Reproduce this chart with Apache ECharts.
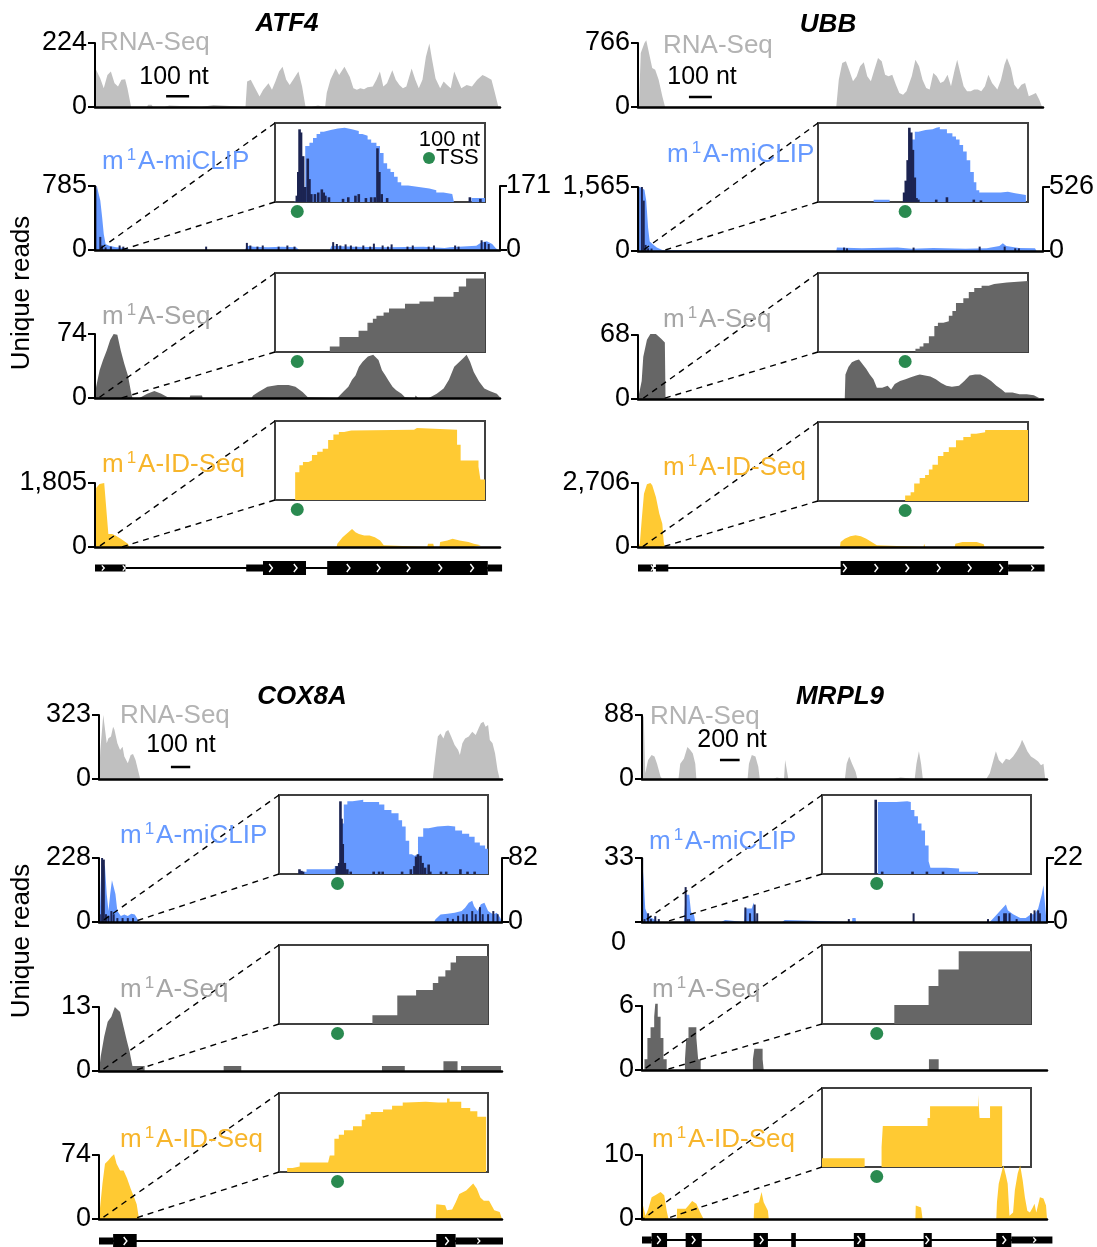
<!DOCTYPE html>
<html><head><meta charset="utf-8">
<script src="https://cdn.jsdelivr.net/npm/echarts@6/dist/echarts.min.js"></script>
<style>html,body{margin:0;padding:0;background:#fff}#c{width:1097px;height:1247px}</style>
</head><body><div id="c"></div>
<script>
// ---------------- DATA ----------------
const geneNames = ['ATF4', 'UBB', 'COX8A', 'MRPL9'];
const geneLengths = [1760, 1765, 2085, 4120];
const trackNames = ['RNA-Seq', 'm1A-miCLIP', 'm1A-Seq', 'm1A-ID-Seq'];
const yMaxRna = [224, 766, 323, 88];
const yMaxMiclip = [785, 1565, 228, 33];
const yMaxSites = [171, 526, 82, 22];
const yMaxM1a = [74, 68, 13, 6];
const yMaxId = [1805, 2706, 74, 10];
const scaleBarStart = [309, 222, 372, 793];
const scaleBarLen = [100, 100, 100, 200];
const scaleBarY = [38, 120, 61, 26];
const scaleBarLabels = ['100 nt', '100 nt', '100 nt', '200 nt'];
const zoomRegionStart = [15, 18, 10, 10];
const zoomRegionEnd = [115, 105, 175, 235];
const tssInset = [10.6, 41.5, 28, 26.2];

// ATF4
const atf4Rna = [[0,0],[2,135],[8,141],[23,100],[38,66],[54,112],[69,124],[85,83],[100,72],[115,95],[131,97],[141,66],[157,0],[225,0],[231,8],[246,8],[252,0],[302,0],[308,5],[323,5],[329,0],[463,0],[469,7],[515,7],[521,0],[654,0],[661,89],[677,95],[692,72],[715,37],[731,60],[754,83],[769,60],[784,89],[800,124],[815,141],[831,95],[846,77],[861,95],[884,124],[900,72],[915,0],[940,0],[946,5],[969,5],[975,0],[1000,0],[1007,49],[1023,95],[1046,135],[1061,112],[1084,141],[1107,106],[1123,66],[1138,60],[1153,66],[1169,62],[1184,69],[1207,72],[1223,95],[1238,124],[1253,72],[1269,83],[1292,129],[1307,95],[1323,77],[1338,66],[1353,72],[1376,135],[1392,95],[1407,66],[1423,95],[1438,176],[1453,222],[1464,170],[1480,100],[1500,66],[1515,89],[1530,77],[1546,66],[1561,124],[1576,95],[1592,66],[1615,77],[1638,72],[1661,95],[1684,112],[1700,106],[1723,95],[1738,49],[1753,0]];
const atf4MiclipCov = [[0,0],[3,700],[8,785],[15,785],[23,608],[31,403],[38,197],[46,74],[61,53],[92,33],[138,25],[150,0],[652,0],[660,53],[690,41],[752,33],[813,41],[874,33],[887,0],[1020,0],[1028,53],[1120,41],[1273,33],[1427,41],[1519,25],[1542,33],[1580,41],[1657,53],[1680,95],[1703,107],[1726,74],[1741,25],[1752,0]];
const atf4MiclipSites = [[2,171],[23,35],[31,12],[46,7],[69,9],[107,12],[123,9],[483,9],[660,19],[675,12],[706,9],[729,12],[798,9],[836,12],[867,9],[1035,21],[1051,16],[1066,12],[1089,15],[1112,12],[1135,9],[1166,12],[1196,9],[1212,17],[1250,12],[1273,9],[1289,15],[1358,9],[1381,12],[1450,9],[1473,12],[1565,12],[1580,9],[1680,26],[1695,21],[1711,16]];
const atf4M1a = [[0,0],[5,13],[20,32],[35,44],[51,55],[66,67],[81,74],[97,73],[112,55],[127,40],[143,26],[158,5],[163,0],[193,0],[196,1],[227,5],[258,8],[288,5],[316,1],[319,0],[411,0],[414,3],[465,3],[468,0],[680,0],[687,3],[710,7],[749,13],[795,15],[841,15],[871,13],[902,7],[925,1],[933,0],[1053,0],[1055,1],[1078,7],[1101,13],[1117,21],[1132,26],[1147,36],[1163,42],[1186,48],[1209,50],[1232,44],[1247,32],[1262,26],[1278,19],[1293,13],[1309,9],[1332,5],[1347,1],[1350,0],[1390,0],[1393,3],[1400,3],[1404,0],[1451,0],[1454,2],[1485,5],[1515,11],[1538,21],[1561,36],[1584,42],[1600,46],[1615,50],[1630,42],[1646,30],[1669,19],[1692,11],[1715,8],[1746,5],[1760,1]];
const atf4Id = [[0,0],[5,1667],[20,1778],[40,1805],[51,926],[58,370],[74,370],[89,324],[112,231],[143,93],[150,0],[1050,0],[1053,93],[1076,278],[1101,417],[1117,509],[1132,417],[1147,370],[1170,324],[1193,324],[1216,278],[1239,185],[1255,46],[1258,0],[1444,0],[1447,93],[1470,93],[1473,0],[1497,0],[1500,139],[1531,185],[1554,231],[1584,185],[1623,139],[1646,93],[1677,46],[1681,0]];
const atf4InsetMiclipCov = [[0,0],[8.9,1],[10.6,6],[13.1,19],[14.4,71],[16.4,75],[18.1,81],[19.8,86],[21.5,89],[23.2,91],[26.5,93],[29.9,94],[33.2,92],[36.6,90],[39.9,86],[41.6,84],[44.1,79],[45.8,75],[48.3,71],[50,62],[51.7,49],[53.4,42],[55,38],[56.7,32],[58.4,25],[60.1,21],[63.4,19],[68.5,17],[73.5,15],[76.8,12],[80.2,10],[84.4,8],[85.2,0],[93.6,5],[100,5]];
const atf4InsetMiclipSites = [[10.4,8],[11.1,38],[11.7,92],[12.4,88],[13.4,58],[14.4,19],[15.6,55],[16.4,29],[17.3,10],[19,10],[20.6,12],[22.3,16],[23.2,12],[24,8],[25.7,6],[32.4,4],[34.9,6],[38.3,8],[39.9,10],[43.3,5],[45.8,6],[47.5,6],[48.8,68],[49.7,38],[50.8,10],[53.4,5],[92.8,6],[97.8,4]];
const atf4InsetM1a = [[0,0],[26.1,7],[30.7,19],[39.8,27],[44,37],[46.6,42],[48.3,46],[51.7,50],[54.3,55],[61.9,61],[68.8,64],[75.6,70],[85,76],[87.5,83],[91,93],[100,93]];
const atf4InsetId = [[0,0],[9.6,35],[11.6,44],[13.3,48],[15.9,50],[17.6,57],[20.1,61],[22.7,65],[25.3,76],[27.8,83],[30.4,86],[32.9,88],[36.3,89],[66.2,91],[67.6,89],[86.7,70],[88.4,50],[96.9,42],[97.8,26],[100,26]];
const atf4Exons = [[0,132,0],[657,730,0],[730,917,1],[1009,1707,1],[1707,1769,0]];
const atf4Chevrons = [[35,0],[126,0],[764,1],[871,1],[1101,1],[1232,1],[1362,1],[1500,1],[1638,1]];

// UBB
const ubbRna = [[0,0],[5,88],[12,646],[28,766],[36,800],[51,606],[62,467],[75,447],[90,327],[106,128],[118,0],[864,0],[875,327],[890,527],[906,547],[922,427],[937,307],[953,367],[968,487],[984,535],[999,367],[1015,307],[1030,447],[1046,587],[1062,547],[1077,387],[1092,367],[1108,387],[1124,267],[1139,168],[1155,148],[1170,188],[1193,367],[1209,567],[1225,487],[1240,327],[1256,227],[1271,208],[1287,407],[1302,367],[1318,287],[1333,307],[1349,387],[1364,247],[1380,447],[1391,567],[1403,427],[1419,247],[1434,188],[1450,188],[1465,208],[1481,208],[1496,188],[1512,247],[1527,387],[1543,287],[1566,208],[1582,327],[1597,507],[1608,587],[1625,467],[1640,267],[1656,208],[1671,267],[1687,287],[1703,128],[1718,148],[1734,168],[1749,88],[1761,0]];
const ubbMiclipCov = [[0,0],[3,1400],[5,1565],[16,1540],[28,1500],[36,1231],[44,566],[51,233],[67,150],[82,83],[106,25],[113,0],[864,0],[867,83],[976,66],[1131,83],[1193,58],[1287,75],[1427,58],[1520,66],[1575,125],[1590,191],[1605,125],[1660,75],[1730,66],[1737,0]];
const ubbMiclipSites = [[1,526],[17,526],[25,414],[33,50],[44,22],[59,20],[898,28],[911,22],[1201,28],[1489,36],[1598,36],[1644,22],[1660,22]];
const ubbM1a = [[0,0],[8,1],[16,19],[23,45],[39,63],[54,69],[78,69],[101,64],[117,60],[120,0],[901,0],[904,26],[917,34],[932,39],[948,41],[963,42],[979,37],[995,32],[1010,26],[1026,21],[1041,12],[1064,12],[1088,14],[1103,10],[1119,16],[1142,19],[1166,21],[1189,23],[1212,25],[1228,26],[1251,25],[1274,24],[1298,21],[1321,17],[1344,14],[1368,13],[1399,14],[1422,19],[1445,25],[1469,26],[1492,26],[1515,23],[1539,19],[1562,14],[1585,10],[1600,7],[1632,7],[1663,5],[1694,5],[1725,4],[1748,1],[1752,0]];
const ubbId = [[0,0],[8,141],[16,1128],[26,2256],[39,2650],[54,2706],[62,2609],[78,2115],[93,1410],[106,987],[112,211],[117,0],[880,0],[883,211],[901,352],[925,451],[948,493],[971,451],[995,352],[1018,211],[1041,70],[1044,0],[1244,0],[1247,141],[1252,0],[1380,0],[1383,141],[1414,211],[1476,211],[1507,113],[1510,0]];
const ubbInsetMiclipCov = [[0,0],[26.5,3],[34.1,0],[42.7,1],[44.4,79],[46.1,89],[47.8,91],[51.2,92],[54.6,94],[56.3,95],[58,92],[61.4,87],[64,83],[65.7,79],[67.4,72],[69.1,64],[70.8,53],[72.5,38],[74.2,25],[75.4,15],[76.8,12],[87,13],[90.4,11],[93.9,9],[99,0],[100,0]];
const ubbInsetMiclipSites = [[41,12],[41.8,27],[42.7,53],[43.5,94],[44.4,88],[45.2,66],[46.1,31],[46.9,5],[47.8,3],[56.3,3],[61.4,6],[74.2,3],[77.6,2]];
const ubbInsetM1a = [[0,0],[46.4,4],[48.4,7],[50.2,11],[52.8,20],[55.4,33],[57.1,37],[59.7,39],[62.3,46],[64,52],[65.7,62],[69.2,68],[71.8,76],[74.4,81],[77.9,84],[81.3,86],[83.9,88],[90,90],[100,91]];
const ubbInsetId = [[0,0],[41.5,7],[44.1,11],[45.8,22],[48.4,29],[51,33],[52.8,40],[54.5,46],[57.1,57],[59.7,62],[62.3,68],[65.7,77],[69.2,81],[72.7,85],[75.3,87],[79.6,90],[89.1,92],[90,90],[100,90]];
const ubbExons = [[0,65,0],[78,132,0],[883,1613,1],[1613,1772,0]];
const ubbChevrons = [[62,0],[901,1],[1038,1],[1173,1],[1310,1],[1445,1],[1582,1],[1719,0]];

// COX8A
const cox8aRna = [[0,0],[7,146],[22,323],[31,314],[40,180],[49,206],[62,214],[73,264],[80,248],[95,180],[109,146],[122,163],[131,113],[149,79],[164,121],[176,126],[189,96],[204,37],[213,0],[1727,0],[1740,113],[1753,214],[1767,230],[1782,205],[1794,239],[1807,247],[1822,214],[1840,172],[1858,146],[1867,121],[1880,180],[1894,205],[1913,214],[1931,239],[1949,222],[1964,256],[1976,281],[1989,289],[2000,264],[2013,272],[2022,197],[2036,180],[2049,130],[2062,45],[2073,0]];
const cox8aMiclipCov = [[0,0],[4,27],[13,222],[22,228],[31,197],[40,100],[49,39],[58,100],[67,149],[76,155],[85,100],[95,39],[113,21],[131,27],[149,21],[167,29],[185,27],[200,10],[204,0],[1734,0],[1740,9],[1767,27],[1804,29],[1840,33],[1876,39],[1894,51],[1913,69],[1931,76],[1940,57],[1958,39],[1976,63],[1994,69],[2013,39],[2040,27],[2058,33],[2076,15],[2084,0]];
const cox8aMiclipSites = [[4,10],[16,82],[25,80],[36,10],[49,8],[64,14],[76,10],[95,5],[122,5],[149,5],[176,5],[1804,5],[1831,4],[1858,8],[1885,10],[1903,10],[1931,14],[1949,10],[1971,19],[1985,10],[2013,10],[2040,14],[2062,10]];
const cox8aM1a = [[0,0],[9,3],[27,7],[45,10],[64,11],[82,13],[91,13],[109,12],[127,9],[145,6],[158,4],[173,1],[236,1],[236,0],[645,0],[645,1],[736,1],[736,0],[1464,0],[1464,1],[1582,1],[1582,0],[1782,0],[1782,2],[1855,2],[1855,0],[1873,0],[1873,1],[2080,1],[2080,0]];
const cox8aId = [[0,0],[5,12],[18,41],[31,64],[49,68],[64,72],[78,75],[91,64],[109,56],[127,56],[145,47],[164,35],[182,25],[195,17],[205,17],[207,0],[1742,0],[1745,17],[1791,16],[1800,10],[1827,11],[1845,19],[1864,29],[1882,31],[1900,33],[1918,37],[1936,41],[1955,35],[1973,25],[1991,21],[2018,21],[2045,10],[2073,8],[2085,0]];
const cox8aInsetMiclipCov = [[0,0],[9.8,3],[13.2,6],[18.3,6],[25,7],[26.7,10],[28.4,14],[29.8,64],[31,88],[32.7,92],[35.2,94],[40.3,91],[47.9,88],[50.4,81],[53.8,77],[57.2,68],[58.9,60],[60.6,42],[62.3,25],[63.6,23],[64.8,25],[66.5,47],[69,58],[71.6,60],[75.8,61],[80.9,60],[84.3,55],[87.6,51],[91,47],[93.6,40],[96.1,36],[98.6,32],[100,32]];
const cox8aInsetMiclipSites = [[9.8,6],[10.7,4],[11.5,3],[27.6,10],[28.8,14],[29.4,92],[29.9,70],[30.5,38],[31.5,14],[32.7,6],[34.3,3],[45.3,3],[47.9,3],[49.6,3],[58.9,3],[63.1,6],[64.8,10],[65.6,22],[66.5,25],[67.7,23],[68.7,14],[69.9,8],[71.6,12],[72.4,3],[77.5,3],[80,3],[86.8,6],[90.2,3],[93.6,3]];
const cox8aInsetM1a = [[0,0],[44.7,11],[56.6,36],[65.6,43],[73.6,52],[76.2,60],[79.6,68],[82.1,78],[84.7,86],[100,86]];
const cox8aInsetId = [[0,0],[3.9,5],[6.5,7],[9.9,12],[23.5,14],[24.3,21],[26.5,42],[28.6,47],[31.1,53],[35.4,58],[39.6,66],[41.3,73],[43.9,76],[49.8,79],[54.1,84],[59.2,88],[60.9,89],[70.2,88],[76.2,88],[80.4,93],[81.6,89],[87.2,81],[91.5,77],[94.9,70],[99.1,0],[100,0]];
const cox8aExons = [[0,73,0],[73,195,1],[1745,1845,1],[1845,2090,0]];
const cox8aChevrons = [[136,1],[1800,1],[1964,0]];

// MRPL9
const mrpl9Rna = [[0,0],[7,88],[18,85],[33,8],[62,26],[98,33],[127,31],[153,21],[189,3],[207,0],[371,0],[389,21],[426,28],[462,44],[491,40],[517,35],[542,21],[553,0],[681,0],[684,2],[700,2],[703,0],[790,0],[793,2],[810,2],[813,0],[1074,0],[1088,21],[1117,33],[1154,31],[1183,17],[1198,0],[1336,0],[1343,2],[1372,2],[1380,0],[1445,0],[1456,26],[1474,26],[1489,0],[1590,0],[1593,2],[1610,2],[1613,0],[1880,0],[1883,2],[1900,2],[1903,0],[2064,0],[2082,21],[2108,31],[2137,21],[2173,10],[2191,0],[2300,0],[2303,2],[2320,2],[2323,0],[2560,0],[2563,2],[2630,2],[2633,0],[2774,0],[2792,21],[2817,38],[2839,21],[2857,0],[2970,0],[2973,2],[2990,2],[2993,0],[3502,0],[3538,8],[3575,26],[3600,38],[3630,26],[3666,21],[3702,28],[3739,26],[3775,31],[3811,38],[3848,47],[3866,54],[3891,47],[3920,38],[3957,31],[3993,28],[4030,24],[4059,19],[4084,21],[4102,0]];
const mrpl9MiclipCov = [[0,0],[1,32],[18,21],[33,7],[55,4],[98,2],[135,1],[171,0],[426,0],[444,14],[480,14],[499,5],[528,4],[542,0],[808,0],[812,1],[845,1],[848,0],[1037,0],[1045,7],[1117,7],[1136,10],[1154,4],[1161,0],[1427,0],[1431,1],[1452,1],[1456,0],[2137,0],[2140,2],[2173,2],[2177,0],[3538,0],[3557,1],[3593,3],[3648,6],[3702,9],[3721,6],[3775,4],[3848,2],[3903,2],[3957,4],[3993,4],[4030,7],[4066,14],[4084,19],[4102,18],[4115,0]];
const mrpl9MiclipSites = [[2,22],[25,1],[62,3],[91,1],[135,2],[171,1],[444,12],[462,1],[480,1],[1052,5],[1099,3],[1146,6],[1172,3],[2104,1],[2763,3],[3520,1],[3630,2],[3684,3],[3702,3],[3739,3],[3811,1],[3957,3],[3993,4],[4030,4],[4048,3]];
const mrpl9M1a = [[0,0],[25,1],[55,3],[87,4],[124,5],[135,6.2],[160,5],[189,3],[218,1],[251,0],[437,1],[451,3],[473,4],[553,3],[571,1],[597,0],[1128,1],[1143,2],[1227,1],[1238,0],[2919,1],[3018,0],[4120,0]];
const mrpl9Id = [[0,0],[7,2.3],[36,0.5],[62,1.5],[80,1.8],[98,3.4],[135,3.7],[164,4],[189,4.2],[226,3.7],[251,1.3],[269,0],[353,0],[357,1.6],[444,1.6],[473,2.1],[510,2.8],[553,2.4],[590,1.1],[626,0],[1136,0],[1143,2.4],[1190,2.6],[1216,4.2],[1238,2.6],[1281,1.3],[1289,0],[2781,0],[2785,2.1],[2839,1.8],[2854,0],[3604,0],[3611,2.6],[3629,5.5],[3655,7.1],[3676,8.4],[3702,6.8],[3720,5.5],[3738,0.5],[3775,1],[3793,4.5],[3822,7.1],[3847,8.4],[3873,6],[3895,3.4],[3920,1.3],[3946,1],[3975,1.8],[3993,2.4],[4011,1],[4048,3.4],[4084,3.2],[4110,2.1],[4120,0]];
const mrpl9InsetMiclipCov = [[0,0],[26.7,91],[35.6,92],[40.8,91],[42.5,81],[44.2,73],[45.9,64],[47.6,55],[49.3,36],[51,16],[51.9,8],[59.6,7],[65.6,3],[74.7,0],[100,0]];
const mrpl9InsetMiclipSites = [[25.7,94],[28.8,3],[43.3,3],[50.2,3],[57.9,3]];
const mrpl9InsetM1a = [[0,0],[34.6,24],[51,48],[55.7,69],[65.4,92],[100,92]];
const mrpl9InsetId = [[0,11],[20.4,0],[28.5,25],[29.1,52],[50.5,62],[51.7,77],[74.7,91],[75.4,62],[80.4,77],[86.2,0],[100,0]];
const mrpl9Exons = [[0,98,0],[98,255,1],[444,608,1],[1136,1281,1],[1518,1565,1],[2155,2271,1],[2865,2948,1],[3604,3757,1],[3757,4175,0]];
const mrpl9Chevrons = [[171,1],[524,1],[1216,1],[2209,1],[2901,1],[3684,1],[3993,0]];

// ---------------- LAYOUT / STYLE ----------------
const FONT = '"Liberation Sans", Arial, Helvetica, sans-serif';
const C_RNA = '#c0c0c0', C_RNA_LBL = '#b3b3b3', C_MI = '#6699ff', C_SITE = '#1c2452',
      C_M1A = '#666666', C_M1A_LBL = '#a6a6a6', C_ID = '#ffca33', C_ID_LBL = '#f7b52b', C_TSS = '#2a8a50';
const labelColors = [C_RNA_LBL, C_MI, C_M1A_LBL, C_ID_LBL];

const panels = [
  {left:95, width:405, tops:[43,186,334,483], geneY:568, insetLeft:275, insetW:210, insetTops:[123,273,421],
   title:[287,24], labels:[[100,43],[102,162],[102,317],[102,465]], scaleText:[174,77], m1aStep:false, hideMiZero:false,
   rna:atf4Rna, cov:atf4MiclipCov, sites:atf4MiclipSites, m1a:atf4M1a, id:atf4Id,
   iCov:atf4InsetMiclipCov, iSites:atf4InsetMiclipSites, iM1a:atf4InsetM1a, iId:atf4InsetId, exons:atf4Exons, chev:atf4Chevrons},
  {left:638, width:405, tops:[43,187,335,483], geneY:568, insetLeft:818, insetW:210, insetTops:[123,273,422],
   title:[828,25], labels:[[663,46],[667,155],[663,320],[663,468]], scaleText:[702,77], m1aStep:false, hideMiZero:false,
   rna:ubbRna, cov:ubbMiclipCov, sites:ubbMiclipSites, m1a:ubbM1a, id:ubbId,
   iCov:ubbInsetMiclipCov, iSites:ubbInsetMiclipSites, iM1a:ubbInsetM1a, iId:ubbInsetId, exons:ubbExons, chev:ubbChevrons},
  {left:99, width:403, tops:[715,858,1007,1155], geneY:1241, insetLeft:279, insetW:209, insetTops:[795,945,1093],
   title:[302,697], labels:[[120,716],[120,836],[120,990],[120,1140]], scaleText:[181,745], m1aStep:false, hideMiZero:false,
   rna:cox8aRna, cov:cox8aMiclipCov, sites:cox8aMiclipSites, m1a:cox8aM1a, id:cox8aId,
   iCov:cox8aInsetMiclipCov, iSites:cox8aInsetMiclipSites, iM1a:cox8aInsetM1a, iId:cox8aInsetId, exons:cox8aExons, chev:cox8aChevrons},
  {left:642, width:405, tops:[715,858,1006,1155], geneY:1240, insetLeft:822, insetW:209, insetTops:[795,945,1088],
   title:[840,697], labels:[[650,717],[649,842],[652,990],[652,1140]], scaleText:[732,740], m1aStep:true, hideMiZero:true,
   rna:mrpl9Rna, cov:mrpl9MiclipCov, sites:mrpl9MiclipSites, m1a:mrpl9M1a, id:mrpl9Id,
   iCov:mrpl9InsetMiclipCov, iSites:mrpl9InsetMiclipSites, iM1a:mrpl9InsetM1a, iId:mrpl9InsetId, exons:mrpl9Exons, chev:mrpl9Chevrons}
];
const TRACK_H = 64, INSET_H = 79;

// ---------------- BUILD ----------------
const grids = [], xAxes = [], yAxes = [], series = [], graphics = [], dashSpecs = [];
const fmt = v => String(Math.round(v)).replace(/\B(?=(\d{3})+(?!\d))/g, ',');
function addGrid(o){ grids.push(Object.assign({containLabel:false, outerBoundsMode:'none'}, o)); return grids.length - 1; }
function xAx(gi, max){ xAxes.push({gridIndex:gi, type:'value', min:0, max:max, position:'bottom', z:5,
  axisLine:{show:true, onZero:false, lineStyle:{color:'#000', width:2.5}}, axisTick:{show:false}, axisLabel:{show:false}, splitLine:{show:false}}); return xAxes.length - 1; }
function yAx(gi, max, pos, hideZero){ yAxes.push({gridIndex:gi, type:'value', position:pos, min:0, max:max, interval:max, z:5,
  axisLine:{show:true, onZero:false, lineStyle:{color:'#000', width:2}},
  axisTick:{show:true, inside:false, length:7, lineStyle:{color:'#000', width:2}},
  axisLabel:{show:true, color:'#000', fontSize:27, fontFamily:FONT, margin: pos === 'right' ? 6 : 8, showMinLabel:true, showMaxLabel:true,
    formatter: v => (hideZero && v === 0) ? '' : fmt(v)},
  splitLine:{show:false}}); return yAxes.length - 1; }
function hiddenAxes(gi, xmin, xmax, ymin, ymax){
  xAxes.push({gridIndex:gi, type:'value', min:xmin, max:xmax, show:false});
  yAxes.push({gridIndex:gi, type:'value', min:ymin, max:ymax, show:false});
  return {xi:xAxes.length - 1, yi:yAxes.length - 1};
}
function area(xi, yi, data, color, extra){ series.push(Object.assign({type:'line', xAxisIndex:xi, yAxisIndex:yi, data:data,
  symbol:'none', showSymbol:false, silent:true, animation:false, clip:false,
  lineStyle:{width:0, color:color}, areaStyle:{color:color, opacity:1}, z:2}, extra || {})); }
function sites(xi, yi, data, color, w){ series.push({type:'custom', xAxisIndex:xi, yAxisIndex:yi, data:data, silent:true, z:3,
  encode:{x:0, y:1}, clip:true,
  renderItem:(p, api) => { const a = api.coord([api.value(0), 0]); const b = api.coord([api.value(0), api.value(1)]);
    return {type:'rect', shape:{x:a[0] - w / 2, y:b[1], width:w, height:a[1] - b[1]}, style:{fill:color}}; }}); }

function text(x, y, str, o){ graphics.push({type:'text', x:x, y:y, z:50, silent:true,
  style:Object.assign({text:str, fontFamily:FONT, fontSize:26, fill:'#000', align:'left', verticalAlign:'middle', textAlign:'left', textVerticalAlign:'middle'}, o || {})}); }
function trackLabel(x, y, name, color){
  let t;
  if (name.indexOf('m1A') === 0) t = '{n|m}{s|1}{n|' + name.slice(2) + '}';
  else t = '{n|' + name + '}';
  graphics.push({type:'text', x:x, y:y, z:40, silent:true, style:{text:t, align:'left', verticalAlign:'middle', textAlign:'left', textVerticalAlign:'middle',
    rich:{n:{fontSize:26, fontFamily:FONT, fill:color, color:color, lineHeight:30},
          s:{fontSize:17, fontFamily:FONT, fill:color, color:color, lineHeight:20, verticalAlign:'top', padding:[0,2,0,3]}}}});
}

panels.forEach((P, pi) => {
  const L = geneLengths[pi];
  const mainRefs = [];
  // RNA-Seq
  let g = addGrid({left:P.left, top:P.tops[0], width:P.width, height:TRACK_H});
  let xi = xAx(g, L), yi = yAx(g, yMaxRna[pi], 'left');
  area(xi, yi, P.rna, C_RNA);
  series.push({type:'line', xAxisIndex:xi, yAxisIndex:yi, data:[[scaleBarStart[pi], scaleBarY[pi]], [scaleBarStart[pi] + scaleBarLen[pi], scaleBarY[pi]]],
    symbol:'none', silent:true, animation:false, lineStyle:{color:'#000', width:2.5}, z:4});
  // miCLIP
  g = addGrid({left:P.left, top:P.tops[1], width:P.width, height:TRACK_H});
  xi = xAx(g, L);
  const yl = yAx(g, yMaxMiclip[pi], 'left', P.hideMiZero);
  const yr = yAx(g, yMaxSites[pi], 'right', false);
  area(xi, yl, P.cov, C_MI);
  sites(xi, yr, P.sites, C_SITE, 2);
  mainRefs.push({xi:xi, yi:yl});
  // m1A-Seq
  g = addGrid({left:P.left, top:P.tops[2], width:P.width, height:TRACK_H});
  xi = xAx(g, L); yi = yAx(g, yMaxM1a[pi], 'left');
  area(xi, yi, P.m1a, C_M1A, P.m1aStep ? {step:'end'} : {});
  mainRefs.push({xi:xi, yi:yi});
  // m1A-ID-Seq
  g = addGrid({left:P.left, top:P.tops[3], width:P.width, height:TRACK_H});
  xi = xAx(g, L); yi = yAx(g, yMaxId[pi], 'left');
  area(xi, yi, P.id, C_ID);
  mainRefs.push({xi:xi, yi:yi});

  // insets
  const insetData = [[P.iCov, C_MI, P.iSites], [P.iM1a, C_M1A, null], [P.iId, C_ID, null]];
  insetData.forEach((d, k) => {
    const gi = addGrid({left:P.insetLeft, top:P.insetTops[k], width:P.insetW, height:INSET_H, show:true,
      borderColor:'#404040', borderWidth:2, backgroundColor:'rgba(255,255,255,0)'});
    const ax = hiddenAxes(gi, 0, 100, 0, 100);
    area(ax.xi, ax.yi, d[0], d[1], {step:'end', clip:true});
    if (d[2]) sites(ax.xi, ax.yi, d[2], C_SITE, 2.6);
    series.push({type:'scatter', xAxisIndex:ax.xi, yAxisIndex:ax.yi, data:[[tssInset[pi], -12]], symbolSize:13,
      itemStyle:{color:C_TSS, opacity:1}, clip:false, silent:true, animation:false, z:5});
    dashSpecs.push({ins:ax, main:mainRefs[k], z0:zoomRegionStart[pi], z1:zoomRegionEnd[pi]});
  });

  // gene model
  const gg = addGrid({left:P.left, top:P.geneY - 10, width:P.width, height:20});
  const ga = hiddenAxes(gg, 0, L, -1, 1);
  const gEnd = Math.max.apply(null, P.exons.map(e => e[1]));
  series.push({type:'line', xAxisIndex:ga.xi, yAxisIndex:ga.yi, data:[[0,0],[gEnd,0]], symbol:'none', silent:true, animation:false,
    clip:false, lineStyle:{color:'#000', width:2}, z:2});
  series.push({type:'custom', xAxisIndex:ga.xi, yAxisIndex:ga.yi, data:P.exons, silent:true, z:3, clip:false, encode:{x:[0,1], y:2},
    renderItem:(p, api) => { const s = api.coord([api.value(0), 0]), e = api.coord([api.value(1), 0]); const h = api.value(2) === 1 ? 14 : 7;
      return {type:'rect', shape:{x:s[0], y:s[1] - h / 2, width:e[0] - s[0], height:h}, style:{fill:'#000'}}; }});
  series.push({type:'custom', xAxisIndex:ga.xi, yAxisIndex:ga.yi, data:P.chev, silent:true, z:4, clip:false, encode:{x:0, y:1},
    renderItem:(p, api) => { const c = api.coord([api.value(0), 0]); const big = api.value(1) === 1; const h = big ? 4 : 2.6, w = big ? 3.2 : 2.4;
      return {type:'polyline', shape:{points:[[c[0] - w / 2, c[1] - h], [c[0] + w / 2, c[1]], [c[0] - w / 2, c[1] + h]]},
        style:{stroke:'#fff', lineWidth:1.4, fill:'none'}}; }});

  // texts
  text(P.title[0], P.title[1], geneNames[pi], {fontWeight:'bold', fontStyle:'italic', align:'center', textAlign:'center'});
  trackNames.forEach((n, k) => trackLabel(P.labels[k][0], P.labels[k][1], n, labelColors[k]));
  text(P.scaleText[0], P.scaleText[1], scaleBarLabels[pi], {align:'center', textAlign:'center', fontSize:25});
});

// extra texts
text(22, 293, 'Unique reads', {align:'center', textAlign:'center'});
graphics[graphics.length - 1].rotation = Math.PI / 2;
text(22, 941, 'Unique reads', {align:'center', textAlign:'center'});
graphics[graphics.length - 1].rotation = Math.PI / 2;
text(480, 140, '100 nt', {align:'right', textAlign:'right', fontSize:22});
text(436, 158, 'TSS', {fontSize:22});
graphics.push({type:'circle', shape:{cx:429, cy:158, r:6}, style:{fill:C_TSS}, z:50, silent:true});
text(626, 943, '0', {align:'right', textAlign:'right', fontSize:27});
text(-1, 4, 'b', {fontWeight:'bold', fontSize:30, verticalAlign:'bottom', textVerticalAlign:'bottom'});

const chart = echarts.init(document.getElementById('c'), null, {renderer:'canvas', width:1097, height:1247});
chart.setOption({animation:false, backgroundColor:'#fff', grid:grids, xAxis:xAxes, yAxis:yAxes, series:series});

const dashes = [];
dashSpecs.forEach(d => {
  const tl = chart.convertToPixel({xAxisIndex:d.ins.xi, yAxisIndex:d.ins.yi}, [0, 100]);
  const bl = chart.convertToPixel({xAxisIndex:d.ins.xi, yAxisIndex:d.ins.yi}, [0, 0]);
  const p0 = chart.convertToPixel({xAxisIndex:d.main.xi, yAxisIndex:d.main.yi}, [d.z0, 0]);
  const p1 = chart.convertToPixel({xAxisIndex:d.main.xi, yAxisIndex:d.main.yi}, [d.z1, 0]);
  [[tl, p0], [bl, p1]].forEach(s => dashes.push({type:'line', silent:true, z:30,
    shape:{x1:s[0][0], y1:s[0][1], x2:s[1][0], y2:s[1][1]}, style:{stroke:'#000', lineWidth:1.4, lineDash:[6,5]}}));
});
chart.setOption({graphic:{elements:graphics.concat(dashes)}});
</script></body></html>
